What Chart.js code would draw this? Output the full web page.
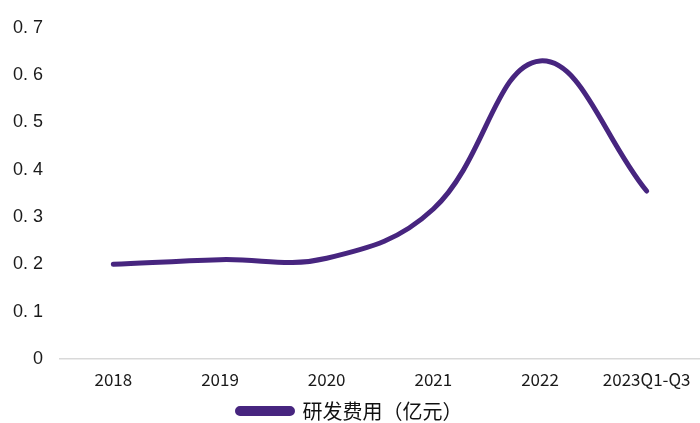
<!DOCTYPE html>
<html>
<head>
<meta charset="utf-8">
<script src="https://cdn.jsdelivr.net/npm/chart.js@4.4.1/dist/chart.umd.min.js"></script>
<style>
  html, body { margin: 0; padding: 0; background: #ffffff; }
  #wrap { width: 700px; height: 423px; }
</style>
</head>
<body>
<div id="wrap"><canvas id="c" width="700" height="423"></canvas></div>
<script>
// 研发费用（亿元）by period
const periods = ['2018', '2019', '2020', '2021', '2022', '2023Q1-Q3'];
const rdExpense = [0.20, 0.21, 0.213, 0.317, 0.63, 0.355];
const seriesName = '研发费用（亿元）';
const yTicks = [0, 0.1, 0.2, 0.3, 0.4, 0.5, 0.6, 0.7];

const purple = '#47257f';

new Chart(document.getElementById('c'), {
  type: 'line',
  data: {
    labels: periods,
    datasets: [{
      label: seriesName,
      data: rdExpense,
      borderColor: purple,
      backgroundColor: purple,
      borderWidth: 5,
      borderCapStyle: 'round',
      borderJoinStyle: 'round',
      tension: 0.4,
      pointRadius: 0,
      pointHoverRadius: 0,
      fill: false
    }]
  },
  options: {
    responsive: false,
    animation: false,
    devicePixelRatio: 1,
    layout: { padding: { top: 20, right: 0, bottom: -8, left: 0 } },
    plugins: {
      tooltip: { enabled: false },
      legend: {
        position: 'bottom',
        labels: {
          boxWidth: 55,
          boxHeight: 5,
          useBorderRadius: true,
          borderRadius: 2.5,
          padding: 0,
          color: '#111111',
          font: { family: '"Noto Sans CJK SC", sans-serif', size: 20, lineHeight: 1 }
        }
      }
    },
    scales: {
      x: {
        type: 'category',
        offset: true,
        grid: { display: false, drawTicks: false },
        border: { display: true, color: '#d9d9d9', width: 1.5 },
        ticks: {
          autoSkip: false,
          maxRotation: 0,
          padding: 10,
          color: '#1a1a1a',
          font: { family: '"Noto Sans CJK SC", sans-serif', size: 17 }
        },
        afterFit(scale) {
          scale.height = 42;
          scale.paddingLeft = 0;
          scale.paddingRight = 0;
        }
      },
      y: {
        min: 0,
        max: 0.7,
        afterBuildTicks(scale) { scale.ticks = yTicks.map(v => ({ value: v })); },
        grid: { display: false, drawTicks: false },
        border: { display: false },
        ticks: {
          padding: 17,
          color: '#1a1a1a',
          font: { family: '"Liberation Sans", Arial, sans-serif', size: 18 },
          callback(v) { return v === 0 ? '0' : v.toFixed(1).replace('.', '. '); }
        },
        afterFit(scale) { scale.width = 60; }
      }
    }
  }
});
</script>
</body>
</html>
